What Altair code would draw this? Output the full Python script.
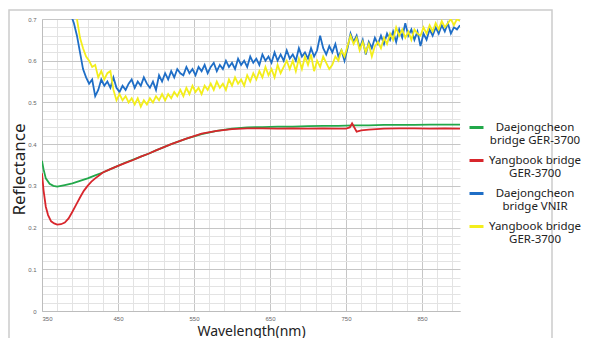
import altair as alt
import pandas as pd

# ---- data ----
SERIES = ["Daejongcheon bridge GER-3700", "Yangbook bridge GER-3700",
          "Daejongcheon bridge VNIR", "Yangbook bridge GER-3700 (yellow)"]
LEGEND_LINES = [["Daejongcheon", "bridge GER-3700"], ["Yangbook bridge", "GER-3700"],
                ["Daejongcheon", "bridge VNIR"], ["Yangbook bridge", "GER-3700"]]
COLORS = ["#22a84a", "#d8262c", "#1f6ec6", "#f3ee1c"]

green_wl = [350, 352, 355, 360, 365, 370, 375, 380, 390, 400, 410, 420, 430, 440, 450, 460,
            470, 480, 490, 500, 520, 540, 560, 580, 600, 620, 640, 660, 680, 700, 720, 740,
            760, 780, 800, 820, 840, 860, 880, 900]
green_val = [0.36, 0.34, 0.318, 0.305, 0.300, 0.298, 0.300, 0.302, 0.306, 0.312, 0.318, 0.325,
             0.332, 0.34, 0.348, 0.356, 0.363, 0.37, 0.377, 0.385, 0.40, 0.413, 0.424, 0.432,
             0.437, 0.44, 0.441, 0.442, 0.442, 0.443, 0.444, 0.444, 0.445, 0.445, 0.446, 0.446,
             0.446, 0.447, 0.447, 0.447]

red_wl = [350, 352, 355, 358, 362, 366, 370, 375, 380, 385, 390, 395, 400, 405, 410, 415, 420,
          425, 430, 440, 450, 460, 470, 480, 490, 500, 520, 540, 560, 580, 600, 620, 640, 660,
          680, 700, 720, 740, 750, 755, 758, 761, 764, 770, 780, 800, 820, 840, 860, 880, 900]
red_val = [0.33, 0.29, 0.25, 0.23, 0.215, 0.21, 0.207, 0.208, 0.212, 0.222, 0.238, 0.255, 0.272,
           0.288, 0.30, 0.31, 0.318, 0.325, 0.332, 0.34, 0.348, 0.355, 0.362, 0.37, 0.377, 0.385,
           0.40, 0.413, 0.425, 0.432, 0.436, 0.438, 0.438, 0.437, 0.438, 0.437, 0.438, 0.437,
           0.437, 0.44, 0.45, 0.44, 0.43, 0.433, 0.435, 0.437, 0.438, 0.438, 0.437, 0.438, 0.437]

blue_wl = list(range(388, 901, 4))
blue_val = [0.71, 0.69, 0.66, 0.62, 0.58, 0.56, 0.545, 0.555, 0.515, 0.53,
            0.555, 0.54, 0.55, 0.535, 0.56, 0.535, 0.525, 0.54, 0.53, 0.545,
            0.555, 0.535, 0.55, 0.54, 0.56, 0.545, 0.535, 0.55, 0.53, 0.565,
            0.55, 0.57, 0.555, 0.575, 0.56, 0.58, 0.57, 0.565, 0.585, 0.57,
            0.58, 0.565, 0.585, 0.575, 0.59, 0.57, 0.585, 0.595, 0.575, 0.59,
            0.58, 0.6, 0.585, 0.595, 0.58, 0.605, 0.59, 0.6, 0.585, 0.61,
            0.595, 0.605, 0.59, 0.615, 0.6, 0.61, 0.595, 0.62, 0.6, 0.615,
            0.6, 0.625, 0.605, 0.615, 0.6, 0.63, 0.61, 0.62, 0.605, 0.63,
            0.61, 0.625, 0.66, 0.63, 0.615, 0.635, 0.62, 0.64, 0.61, 0.625,
            0.6, 0.63, 0.665, 0.645, 0.66, 0.63, 0.65, 0.615, 0.645, 0.63,
            0.655, 0.64, 0.66, 0.64, 0.665, 0.65, 0.67, 0.645, 0.675, 0.655,
            0.69, 0.66, 0.675, 0.65, 0.67, 0.635, 0.665, 0.65, 0.675, 0.66,
            0.68, 0.665, 0.685, 0.67, 0.69, 0.665, 0.68, 0.675, 0.685]

yellow_wl = list(range(396, 901, 4))
yellow_val = [0.70, 0.655, 0.63, 0.61, 0.6, 0.585, 0.59, 0.56, 0.575, 0.555,
              0.57, 0.575, 0.53, 0.505, 0.52, 0.505, 0.515, 0.5, 0.51, 0.495,
              0.51, 0.49, 0.505, 0.495, 0.51, 0.5, 0.515, 0.505, 0.52, 0.505,
              0.52, 0.51, 0.525, 0.515, 0.53, 0.515, 0.535, 0.52, 0.54, 0.525,
              0.535, 0.52, 0.54, 0.53, 0.545, 0.53, 0.55, 0.535, 0.545, 0.53,
              0.555, 0.54, 0.56, 0.545, 0.555, 0.54, 0.565, 0.55, 0.57, 0.555,
              0.575, 0.56, 0.585, 0.565, 0.58, 0.56, 0.59, 0.57, 0.585, 0.6,
              0.58, 0.6, 0.575, 0.605, 0.58, 0.61, 0.59, 0.615, 0.575, 0.6,
              0.585, 0.61, 0.595, 0.58, 0.59, 0.61, 0.6, 0.625, 0.61, 0.635,
              0.66, 0.64, 0.655, 0.625, 0.645, 0.62, 0.64, 0.61, 0.635, 0.645,
              0.63, 0.655, 0.64, 0.665, 0.65, 0.68, 0.66, 0.675, 0.655, 0.67,
              0.65, 0.675, 0.665, 0.66, 0.68, 0.665, 0.685, 0.67, 0.69, 0.675,
              0.695, 0.68, 0.69, 0.7, 0.685, 0.7, 0.695]

X_TICKS = list(range(350, 901, 20))
Y_TICKS = [round(i * 0.02, 2) for i in range(36)]

# ---- build table ----
rows = []
for name, wl, val, order in [(SERIES[2], blue_wl, blue_val, 0), (SERIES[3], yellow_wl, yellow_val, 1),
                             (SERIES[0], green_wl, green_val, 2), (SERIES[1], red_wl, red_val, 3)]:
    for w, v in zip(wl, val):
        rows.append({"series": name, "wl": w, "r": v, "o": order})
df = pd.DataFrame(rows)

label_map = "{" + ",".join(
    "'%s':['%s','%s']" % (s, a, b) for s, (a, b) in zip(SERIES, LEGEND_LINES)) + "}"

FONT = "Noto Sans"

lines = alt.Chart(df).mark_line(strokeWidth=1.8, clip=True).encode(
    x=alt.X("wl:Q", scale=alt.Scale(domain=[350, 900], nice=False, zero=False),
            axis=alt.Axis(values=X_TICKS, title="Wavelength(nm)", format="d",
                          labelExpr="datum.value % 100 == 50 ? datum.label : ''",
                          labelFontSize=6, labelColor="#666", labelPadding=4,
                          ticks=False, domainColor="#bdbdbd",
                          gridColor={"condition": {"test": "datum.value % 100 == 50", "value": "#c6c6c6"},
                                     "value": "#e3e3e3"},
                          titleFontSize=14, titleFont=FONT, titleFontWeight="normal",
                          titleColor="#222", titleY=13, titleX=209, titleBaseline="top")),
    y=alt.Y("r:Q", scale=alt.Scale(domain=[0, 0.7], nice=False),
            axis=alt.Axis(values=Y_TICKS, title="Reflectance",
                          labelExpr="abs(datum.value*10 - round(datum.value*10)) < 0.001 ? format(datum.value, '.1~f') : ''",
                          labelFontSize=6, labelColor="#666", labelPadding=6,
                          ticks=False, domainColor="#bdbdbd",
                          gridColor={"condition": {"test": "abs(datum.value*10 - round(datum.value*10)) < 0.001",
                                                   "value": "#c6c6c6"},
                                     "value": "#e3e3e3"},
                          titleFontSize=17, titleFont=FONT, titleFontWeight="normal",
                          titleColor="#222", titleX=-14, titleY=150, titleAngle=270,
                          titleBaseline="bottom", titleAlign="center")),
    color=alt.Color("series:N", scale=alt.Scale(domain=SERIES, range=COLORS),
                    legend=alt.Legend(title=None, orient="none", legendX=426, legendY=100,
                                      symbolType="stroke", symbolSize=196, symbolStrokeWidth=3,
                                      labelFont=FONT, labelFontSize=11.5, labelColor="#222",
                                      labelAlign="center", labelOffset=50, labelLimit=200,
                                      rowPadding=5,
                                      labelExpr=label_map + "[datum.value]")),
    detail="series:N",
    order="o:Q",
)

frame = alt.Chart(pd.DataFrame({"k": [0]})).mark_rect(
    filled=False, stroke="#cccccc", strokeWidth=1.5, clip=False).encode(
    x=alt.value(-33), x2=alt.value(510), y=alt.value(-9), y2=alt.value(340))

chart = alt.layer(frame, lines).properties(
    width=418, height=292,
    autosize=alt.AutoSizeParams(type="none"),
    padding={"left": 34, "top": 11, "right": 121, "bottom": 27},
).configure_view(stroke=None)

chart.save("out.html", embed_options={"renderer": "svg", "actions": False})
